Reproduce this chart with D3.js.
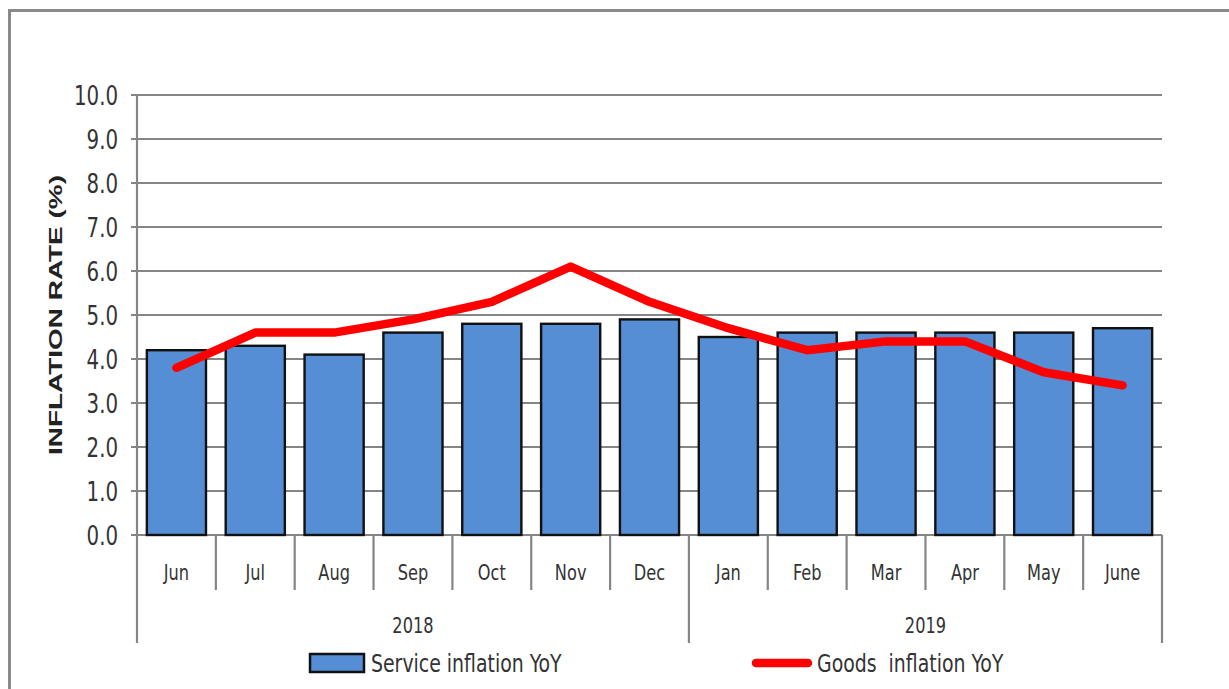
<!DOCTYPE html>
<html>
<head>
  <script src="https://d3js.org/d3.v7.min.js"></script>
  <style>
    body { margin: 0; background: #fff; }
    svg { font-family: "Liberation Sans Narrow", "Arial Narrow", "DejaVu Sans Condensed", sans-serif; }
    .grid line { stroke: #858585; stroke-width: 2.2px; }
    .tick-label { fill: #333; font-size: 22px; }
    .cat-label { fill: #333; font-size: 18px; }
    .legend-text { fill: #333; font-size: 21px; }
  </style>
</head>
<body>
<div id="chart"></div>
<script>
var months = ["Jun", "Jul", "Aug", "Sep", "Oct", "Nov", "Dec", "Jan", "Feb", "Mar", "Apr", "May", "June"];
var yearLabels = ["2018", "2019"];
var yearMonthCounts = [7, 6];
var serviceInflation = [4.2, 4.3, 4.1, 4.6, 4.8, 4.8, 4.9, 4.5, 4.6, 4.6, 4.6, 4.6, 4.7];
var goodsInflation = [3.8, 4.6, 4.6, 4.9, 5.3, 6.1, 5.3, 4.7, 4.2, 4.4, 4.4, 3.7, 3.4];
var yTicks = [0, 1, 2, 3, 4, 5, 6, 7, 8, 9, 10];
var seriesNames = ["Service inflation YoY", "Goods  inflation YoY"];

var width = 1229;
var height = 689;
var plotLeft = 137, plotRight = 1162, plotTop = 95, plotBottom = 535;
var stretch = 1.2; // the source picture was stretched vertically

var svg = d3.select("#chart").append("svg")
  .attr("width", width)
  .attr("height", height);

// outer frame (only top and left edges are visible)
svg.append("rect")
  .attr("x", 9.5).attr("y", 10.5)
  .attr("width", 1240).attr("height", 700)
  .attr("fill", "none")
  .attr("stroke", "#8a8a8a")
  .attr("stroke-width", 3);

var x = d3.scaleBand()
  .domain(months)
  .range([plotLeft, plotRight])
  .paddingInner(0.25)
  .paddingOuter(0.125);

var y = d3.scaleLinear()
  .domain([0, 10])
  .range([plotBottom, plotTop]);

var step = x.step();
var cellStart = m => x(m) - (step - x.bandwidth()) / 2;

// places a label at (px, py) with a vertical stretch
function place(px, py) {
  return `translate(${px},${py}) scale(1,${stretch})`;
}

/* gridlines + y ticks */
var grid = svg.append("g").attr("class", "grid");
grid.selectAll("line.h")
  .data(yTicks).enter()
  .append("line")
  .attr("class", "h")
  .attr("x1", plotLeft - 6).attr("x2", plotRight)
  .attr("y1", d => y(d)).attr("y2", d => y(d));

svg.selectAll("text.tick-label")
  .data(yTicks).enter()
  .append("text")
  .attr("class", "tick-label")
  .attr("transform", d => place(plotLeft - 19, y(d)))
  .attr("dy", "0.36em")
  .attr("text-anchor", "end")
  .text(d3.format(".1f"));

/* y axis line, running down as the first long divider */
grid.append("line")
  .attr("x1", plotLeft).attr("x2", plotLeft)
  .attr("y1", plotTop).attr("y2", 643);

/* category dividers */
var boundaries = months.map((m, i) => i).slice(1);
var yearEnds = d3.cumsum(yearMonthCounts);
grid.selectAll("line.v")
  .data(boundaries).enter()
  .append("line")
  .attr("class", "v")
  .attr("x1", i => cellStart(months[i])).attr("x2", i => cellStart(months[i]))
  .attr("y1", plotBottom)
  .attr("y2", i => yearEnds.indexOf(i) >= 0 ? 643 : 590);
grid.append("line")
  .attr("x1", plotRight).attr("x2", plotRight)
  .attr("y1", plotBottom).attr("y2", 643);

/* bars */
svg.append("g")
  .selectAll("rect")
  .data(serviceInflation).enter()
  .append("rect")
  .attr("x", (d, i) => x(months[i]))
  .attr("width", x.bandwidth())
  .attr("y", d => y(d))
  .attr("height", d => y(0) - y(d))
  .attr("fill", "#558ed5")
  .attr("stroke", "#111")
  .attr("stroke-width", 2.4);

/* goods line */
var line = d3.line()
  .x((d, i) => x(months[i]) + x.bandwidth() / 2)
  .y(d => y(d));

svg.append("path")
  .attr("d", line(goodsInflation))
  .attr("fill", "none")
  .attr("stroke", "#ff0000")
  .attr("stroke-width", 8.5)
  .attr("stroke-linecap", "round")
  .attr("stroke-linejoin", "round");

/* month labels */
svg.selectAll("text.cat-label.m")
  .data(months).enter()
  .append("text")
  .attr("class", "cat-label m")
  .attr("transform", d => place(x(d) + x.bandwidth() / 2, 572))
  .attr("dy", "0.36em")
  .attr("text-anchor", "middle")
  .text(d => d);

/* year labels */
var yearStarts = [0].concat(yearEnds.slice(0, -1));
svg.selectAll("text.cat-label.y")
  .data(yearLabels).enter()
  .append("text")
  .attr("class", "cat-label y")
  .attr("transform", (d, i) => {
    var a = cellStart(months[yearStarts[i]]);
    var b = cellStart(months[yearEnds[i] - 1]) + step;
    return place((a + b) / 2, 625);
  })
  .attr("dy", "0.36em")
  .attr("text-anchor", "middle")
  .text(d => d);

/* y axis title */
svg.append("text")
  .attr("transform", "translate(55,315) rotate(-90)")
  .attr("text-anchor", "middle")
  .attr("dy", "0.36em")
  .style("font-family", "'Liberation Sans', Arial, sans-serif")
  .style("font-weight", "bold")
  .style("font-size", "19px")
  .attr("fill", "#222")
  .attr("textLength", 280)
  .attr("lengthAdjust", "spacingAndGlyphs")
  .text("INFLATION RATE (%)");

/* legend */
var legend = svg.append("g");
legend.append("rect")
  .attr("x", 310).attr("y", 654)
  .attr("width", 54).attr("height", 18)
  .attr("fill", "#558ed5")
  .attr("stroke", "#111")
  .attr("stroke-width", 2.5);
legend.append("text")
  .attr("class", "legend-text")
  .attr("transform", place(371, 663))
  .attr("dy", "0.36em")
  .text(seriesNames[0]);
legend.append("line")
  .attr("x1", 756).attr("x2", 808)
  .attr("y1", 663).attr("y2", 663)
  .attr("stroke", "#ff0000")
  .attr("stroke-width", 8.5)
  .attr("stroke-linecap", "round");
legend.append("text")
  .attr("class", "legend-text")
  .attr("transform", place(817, 663))
  .attr("dy", "0.36em")
  .attr("xml:space", "preserve")
  .style("white-space", "pre")
  .text(seriesNames[1]);
</script>
</body>
</html>
